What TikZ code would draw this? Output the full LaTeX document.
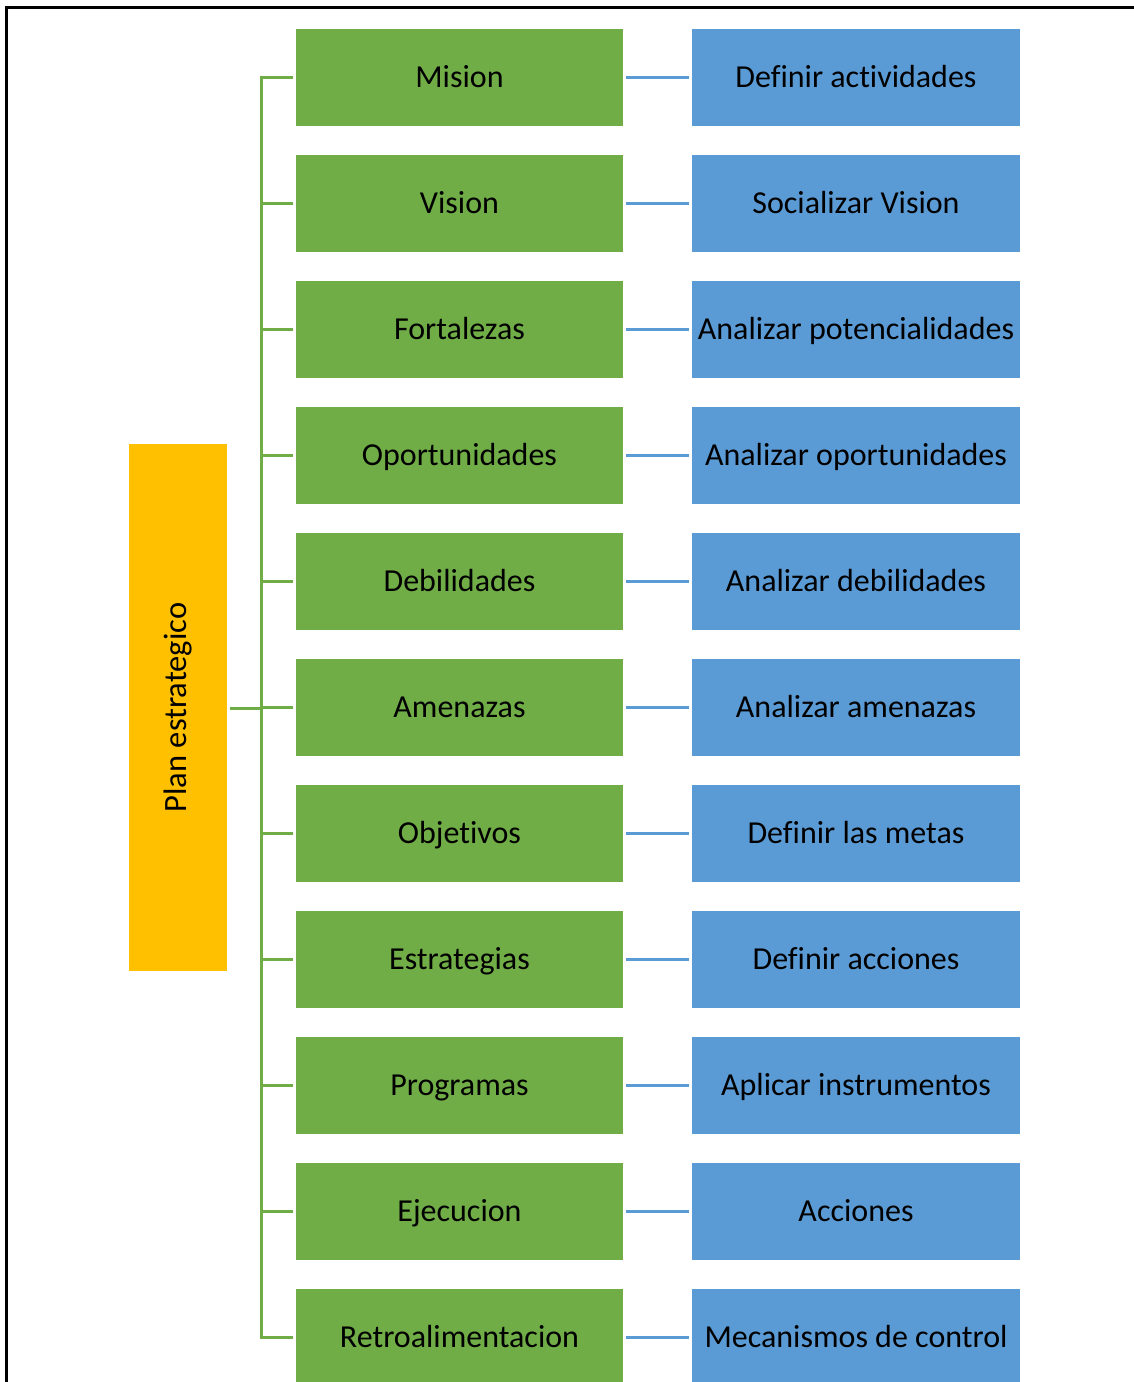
\documentclass[tikz,border=0pt]{standalone}
\usepackage{fontspec}
\setmainfont[Ligatures={NoCommon}]{Carlito}
\definecolor{gfill}{HTML}{70AD47}
\definecolor{bfill}{HTML}{5B9BD5}
\definecolor{yfill}{HTML}{FFC000}
\begin{document}
\begin{tikzpicture}[x=1pt,y=-1pt,
  greenbox/.style={fill=gfill,minimum width=327pt,minimum height=97pt,inner sep=0pt,text height=27pt,text depth=6.6pt,font=\fontsize{32}{38}\selectfont},
  bluebox/.style={fill=bfill,minimum width=328pt,minimum height=97pt,inner sep=0pt,text height=27pt,text depth=6.6pt,font=\fontsize{32}{38}\selectfont},
  gline/.style={draw=gfill,line width=3pt},
  bline/.style={draw=bfill,line width=2.2pt,shorten <=3pt,shorten >=3pt}]
\useasboundingbox (0,0) rectangle (1134,1382);
\clip (0,0) rectangle (1134,1382);
\fill[white] (0,0) rectangle (1134,1382);
\draw[line width=3pt] (6,1400) -- (6,7) -- (1140,7);
\node[fill=yfill,minimum width=98pt,minimum height=527pt,inner sep=0pt] (plan) at (178,707.5) {};
\node[rotate=90,font=\fontsize{32.5}{38}\selectfont] (plantext) at (plan.center) {Plan estrategico};
\coordinate (trunk) at (261.5,708);
\foreach \i/\g/\b in {1/Mision/Definir actividades,2/Vision/Socializar Vision,3/Fortalezas/Analizar potencialidades,4/Oportunidades/Analizar oportunidades,5/Debilidades/Analizar debilidades,6/Amenazas/Analizar amenazas,7/Objetivos/Definir las metas,8/Estrategias/Definir acciones,9/Programas/Aplicar instrumentos,10/Ejecucion/Acciones,11/Retroalimentacion/Mecanismos de control}{
  \node[greenbox] (g\i) at (459.5,{77.5+126*(\i-1)}) {\g};
  \node[bluebox] (b\i) at (856,{77.5+126*(\i-1)}) {\b};
  \draw[gline,shorten >=3pt] (trunk|-g\i.west) -- (g\i.west);
  \draw[bline] (g\i.east) -- (b\i.west);
}
\draw[gline,line cap=rect] (trunk|-g1.west) -- (trunk|-g11.west);
\draw[gline,shorten <=3pt] (plan.east|-trunk) -- (trunk);
\end{tikzpicture}
\end{document}
